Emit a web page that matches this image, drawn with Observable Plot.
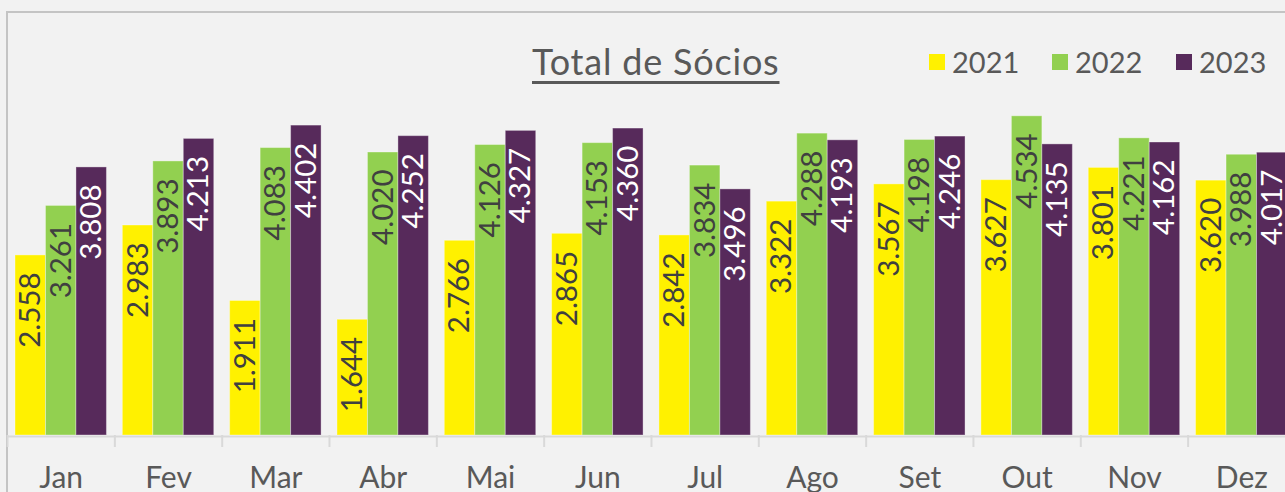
<!DOCTYPE html>
<html>
<head>
<meta charset="utf-8">
<script src="https://cdn.jsdelivr.net/npm/d3@7"></script>
<script src="https://cdn.jsdelivr.net/npm/@observablehq/plot@0.6"></script>
<style>
  html, body { margin: 0; padding: 0; background: #f2f2f2; width: 1285px; height: 492px; overflow: hidden; font-family: Lato, "DejaVu Sans", sans-serif; }
  #wrap { position: relative; width: 1285px; height: 492px; overflow: hidden; }
  #border { position: absolute; left: 6px; top: 11px; width: 1400px; height: 600px; border-left: 2px solid #c4c4c4; border-top: 2px solid #c4c4c4; box-sizing: border-box; }
  #chart { position: absolute; left: 0; top: 0; width: 1295px; }
  #chart svg { max-width: none !important; }
  #title { position: absolute; left: 532px; top: 43px; font-size: 36px; line-height: 36px; letter-spacing: 0.8px; color: #595959; white-space: nowrap;
           text-decoration: underline; text-decoration-thickness: 2.5px; text-underline-offset: 6px; }
  .leg { position: absolute; top: 47px; font-size: 29px; line-height: 29px; color: #595959; white-space: nowrap; }
  .sw { position: absolute; top: 54px; width: 16px; height: 16px; }
</style>
</head>
<body>
<div id="wrap">
  <div id="border"></div>
  <div id="chart"></div>
  <div id="title">Total de Sócios</div>
</div>
<script>
const months = ["Jan","Fev","Mar","Abr","Mai","Jun","Jul","Ago","Set","Out","Nov","Dez"];
const years = ["2021","2022","2023"];
const colors = ["#fff100","#92d050","#572a5b"];
const labelColors = ["#404040","#404040","#ffffff"];
const v2021 = [2558, 2983, 1911, 1644, 2766, 2865, 2842, 3322, 3567, 3627, 3801, 3620];
const v2022 = [3261, 3893, 4083, 4020, 4126, 4153, 3834, 4288, 4198, 4534, 4221, 3988];
const v2023 = [3808, 4213, 4402, 4252, 4327, 4360, 3496, 4193, 4246, 4135, 4162, 4017];

const series = [v2021, v2022, v2023];
const data = [];
months.forEach((m, i) => years.forEach((y, j) => data.push({month: m, year: y, value: series[j][i]})));

const fmt = d3.formatLocale({decimal: ",", thousands: ".", grouping: [3], currency: ["", ""]}).format(",");
const labelColor = new Map(years.map((y, j) => [y, labelColors[j]]));

const plot = Plot.plot({
  width: 1295,
  height: 492,
  marginLeft: 7,
  marginRight: 0,
  marginTop: 83,
  marginBottom: 57,
  style: {background: "transparent", fontFamily: "Lato, sans-serif", overflow: "visible", maxWidth: "none"},
  fx: {domain: months, paddingInner: 0.148, paddingOuter: 0.0745, round: false, label: null, axis: null},
  x: {domain: years, padding: 0, round: false, axis: null},
  y: {domain: [0, 5000], axis: null},
  color: {domain: years, range: colors},
  marks: [
    Plot.barY(data, {fx: "month", x: "year", y: "value", fill: "year", stroke: "#ffffff", strokeOpacity: 0.35, strokeWidth: 1}),
    Plot.ruleY([0], {stroke: "#d9d9d9", strokeWidth: 2, dy: 1, insetLeft: -8.1, insetRight: -8.1}),
    Plot.text(data, {
      fx: "month", x: "year", y: "value",
      text: d => fmt(d.value),
      rotate: -90, textAnchor: "end", lineAnchor: "middle", dy: 17,
      fill: d => labelColor.get(d.year), fontSize: 29.5
    }),
    Plot.axisFx({anchor: "bottom", tickSize: 0, tickPadding: 31, fontSize: 30, color: "#595959", label: null}),
    Plot.axisFx({anchor: "bottom", tickSize: 12, text: null, dx: -53.68, stroke: "#d9d9d9", strokeWidth: 2, label: null})
  ]
});
document.getElementById("chart").appendChild(plot);

// legend built from the years/colors arrays
const legPos = [[929, 952], [1052, 1075], [1176, 1199]];
const wrap = document.getElementById("wrap");
years.forEach((y, j) => {
  const sw = document.createElement("div");
  sw.className = "sw"; sw.style.left = legPos[j][0] + "px"; sw.style.background = colors[j];
  const t = document.createElement("div");
  t.className = "leg"; t.style.left = legPos[j][1] + "px"; t.textContent = y;
  wrap.appendChild(sw); wrap.appendChild(t);
});
</script>
</body>
</html>
